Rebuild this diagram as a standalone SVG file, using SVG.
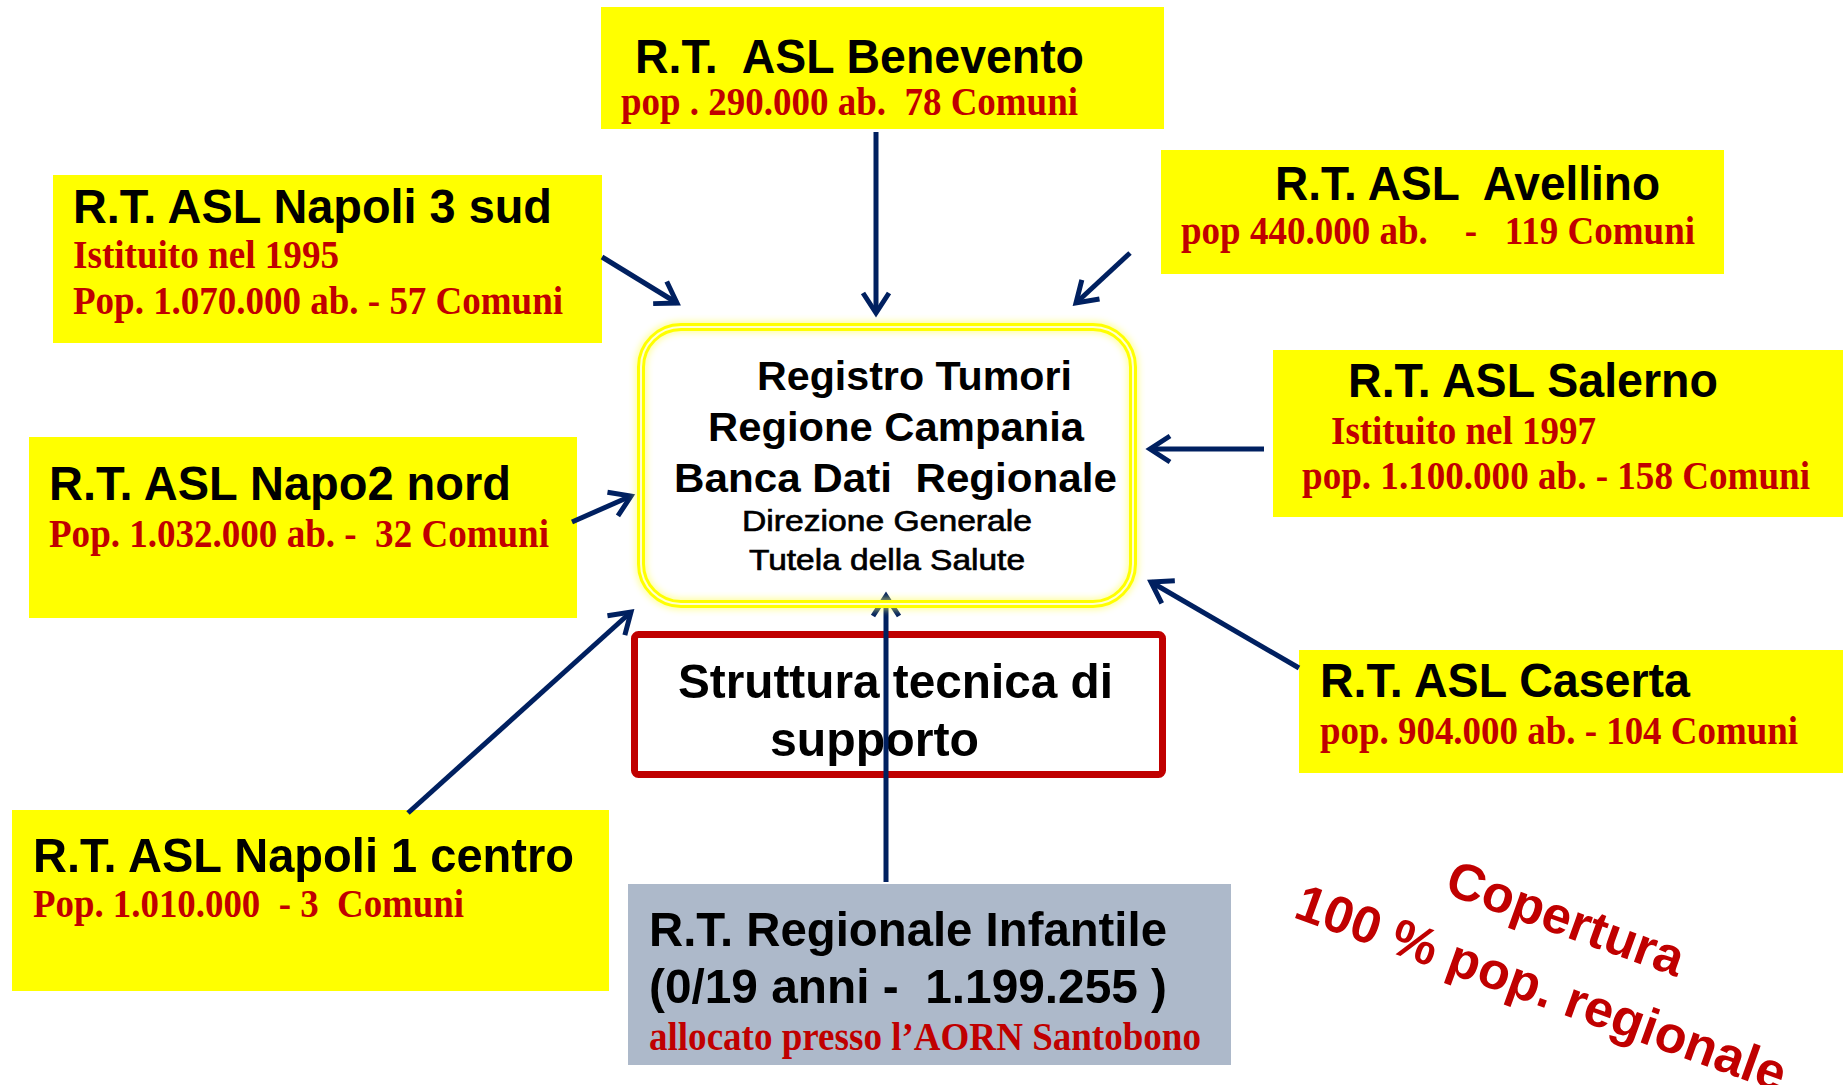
<svg xmlns="http://www.w3.org/2000/svg" width="1843" height="1085" viewBox="0 0 1843 1085">
<style>
  text { white-space: pre; }
  .box { fill: #ffff00; }
  .ttl { font-family: "Liberation Sans", Arial, sans-serif; font-weight: bold; font-size: 49px; fill: #000; }
  .red { font-family: "Liberation Serif", "Times New Roman", serif; font-weight: bold; font-size: 40px; fill: #c00000; }
  .ctr { font-family: "Liberation Sans", Arial, sans-serif; font-weight: bold; font-size: 41px; fill: #000; }
  .sub { font-family: "Liberation Sans", Arial, sans-serif; font-size: 30px; fill: #000; stroke: #000; stroke-width: 0.7px; }
  .cov { font-family: "Liberation Sans", Arial, sans-serif; font-weight: bold; font-size: 52px; fill: #c00000; }
  .conn { stroke: #002060; stroke-width: 5; fill: none; marker-end: url(#arr); }
</style>
<defs>
  <marker id="arr" markerUnits="userSpaceOnUse" markerWidth="40" markerHeight="40" refX="0" refY="0" viewBox="-30 -20 40 40" orient="auto" overflow="visible">
    <path d="M -20 -13 L 0 0 L -20 13" fill="none" stroke="#002060" stroke-width="5" stroke-linejoin="miter"/>
  </marker>
  <filter id="glow" x="-10%" y="-10%" width="120%" height="120%">
    <feGaussianBlur stdDeviation="3"/>
  </filter>
</defs>
<rect width="1843" height="1085" fill="#ffffff"/>

<g id="benevento">
  <rect class="box" x="601" y="7" width="563" height="122"/>
  <text class="ttl" x="635" y="73" textLength="449" lengthAdjust="spacingAndGlyphs">R.T.  ASL Benevento</text>
  <text class="red" x="621" y="115" textLength="457" lengthAdjust="spacingAndGlyphs">pop . 290.000 ab.  78 Comuni</text>
</g>

<g id="napoli3">
  <rect class="box" x="53" y="175" width="549" height="168"/>
  <text class="ttl" x="73" y="223" textLength="479" lengthAdjust="spacingAndGlyphs">R.T. ASL Napoli 3 sud</text>
  <text class="red" x="73" y="268" textLength="266" lengthAdjust="spacingAndGlyphs">Istituito nel 1995</text>
  <text class="red" x="73" y="314" textLength="490" lengthAdjust="spacingAndGlyphs">Pop. 1.070.000 ab. - 57 Comuni</text>
</g>

<g id="avellino">
  <rect class="box" x="1161" y="150" width="563" height="124"/>
  <text class="ttl" x="1275" y="200" textLength="385" lengthAdjust="spacingAndGlyphs">R.T. ASL  Avellino</text>
  <text class="red" x="1181" y="244" textLength="514" lengthAdjust="spacingAndGlyphs">pop 440.000 ab.    -   119 Comuni</text>
</g>

<g id="salerno">
  <rect class="box" x="1273" y="350" width="570" height="167"/>
  <text class="ttl" x="1348" y="397" textLength="370" lengthAdjust="spacingAndGlyphs">R.T. ASL Salerno</text>
  <text class="red" x="1331" y="444" textLength="265" lengthAdjust="spacingAndGlyphs">Istituito nel 1997</text>
  <text class="red" x="1302" y="489" textLength="508" lengthAdjust="spacingAndGlyphs">pop. 1.100.000 ab. - 158 Comuni</text>
</g>

<g id="napoli2">
  <rect class="box" x="29" y="437" width="548" height="181"/>
  <text class="ttl" x="49" y="500" textLength="462" lengthAdjust="spacingAndGlyphs">R.T. ASL Napo2 nord</text>
  <text class="red" x="49" y="547" textLength="500" lengthAdjust="spacingAndGlyphs">Pop. 1.032.000 ab. -  32 Comuni</text>
</g>

<g id="caserta">
  <rect class="box" x="1299" y="650" width="544" height="123"/>
  <text class="ttl" x="1320" y="697" textLength="370" lengthAdjust="spacingAndGlyphs">R.T. ASL Caserta</text>
  <text class="red" x="1320" y="744" textLength="478" lengthAdjust="spacingAndGlyphs">pop. 904.000 ab. - 104 Comuni</text>
</g>

<g id="napoli1">
  <rect class="box" x="12" y="810" width="597" height="181"/>
  <text class="ttl" x="33" y="872" textLength="541" lengthAdjust="spacingAndGlyphs">R.T. ASL Napoli 1 centro</text>
  <text class="red" x="33" y="917" textLength="431" lengthAdjust="spacingAndGlyphs">Pop. 1.010.000  - 3  Comuni</text>
</g>

<g id="infantile">
  <rect x="628" y="884" width="603" height="181" fill="#adb9ca"/>
  <text class="ttl" x="649" y="946" textLength="518" lengthAdjust="spacingAndGlyphs">R.T. Regionale Infantile</text>
  <text class="ttl" x="649" y="1003" textLength="518" lengthAdjust="spacingAndGlyphs">(0/19 anni -  1.199.255 )</text>
  <text class="red" x="649" y="1050" textLength="552" lengthAdjust="spacingAndGlyphs">allocato presso l’AORN Santobono</text>
</g>

<g id="struttura">
  <rect x="634.5" y="634.5" width="528" height="140" rx="4" fill="#ffffff" stroke="#c00000" stroke-width="7"/>
  <text class="ttl" x="678" y="698" textLength="435" lengthAdjust="spacingAndGlyphs">Struttura tecnica di</text>
  <text class="ttl" x="770" y="756" textLength="209" lengthAdjust="spacingAndGlyphs">supporto</text>
</g>

<g id="connectors">
  <line class="conn" x1="876" y1="132" x2="876" y2="313"/>
  <line class="conn" x1="602" y1="257" x2="677" y2="303"/>
  <line class="conn" x1="1130" y1="253" x2="1076" y2="303"/>
  <line class="conn" x1="1264" y1="449" x2="1150" y2="449"/>
  <line class="conn" x1="572" y1="522" x2="631" y2="496"/>
  <line class="conn" x1="408" y1="813" x2="631" y2="612"/>
  <line class="conn" x1="1299" y1="668" x2="1151" y2="582"/>
  <line class="conn" x1="886" y1="882" x2="886" y2="596"/>
</g>

<g id="registro">
  <rect x="641" y="327" width="492" height="277" rx="40" fill="none" stroke="#ffff66" stroke-width="12" opacity="0.6" filter="url(#glow)"/>
  <rect x="641" y="327" width="492" height="277" rx="40" fill="#ffffff" fill-opacity="0" stroke="#ffff00" stroke-width="8"/>
  <rect x="641" y="327" width="492" height="277" rx="40" fill="none" stroke="#ffffd0" stroke-width="2"/>
  <text class="ctr" x="757" y="390" textLength="315" lengthAdjust="spacingAndGlyphs">Registro Tumori</text>
  <text class="ctr" x="708" y="441" textLength="376" lengthAdjust="spacingAndGlyphs">Regione Campania</text>
  <text class="ctr" x="674" y="492" textLength="443" lengthAdjust="spacingAndGlyphs">Banca Dati  Regionale</text>
  <text class="sub" x="742" y="531" textLength="290" lengthAdjust="spacingAndGlyphs">Direzione Generale</text>
  <text class="sub" x="749" y="570" textLength="276" lengthAdjust="spacingAndGlyphs">Tutela della Salute</text>
</g>

<g id="copertura">
  <text class="cov" transform="translate(1443,893) rotate(19.8)">Copertura</text>
  <text class="cov" transform="translate(1292,917) rotate(19.8)">100 % pop. regionale</text>
</g>
</svg>
